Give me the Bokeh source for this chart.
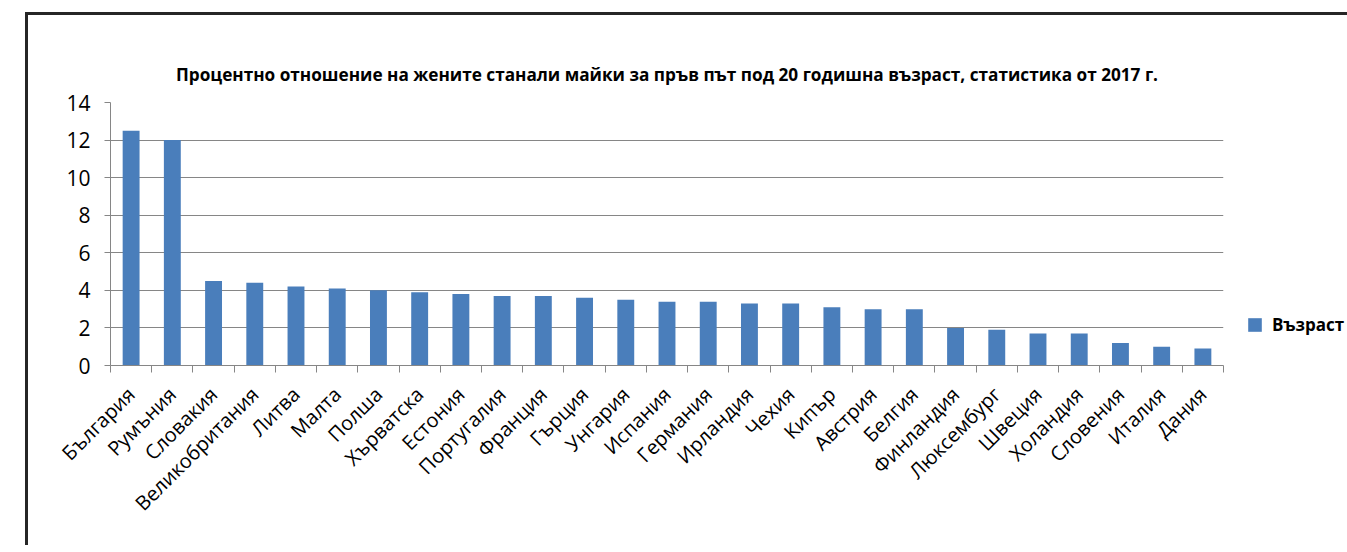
import math
from bokeh.plotting import figure
from bokeh.models import (Range1d, FixedTicker, LinearAxis, Legend, LegendItem, ColumnDataSource)
from bokeh.embed import file_html
from bokeh.resources import INLINE

countries = ["България", "Румъния", "Словакия", "Великобритания", "Литва", "Малта", "Полша",
             "Хърватска", "Естония", "Португалия", "Франция", "Гърция", "Унгария", "Испания",
             "Германия", "Ирландия", "Чехия", "Кипър", "Австрия", "Белгия", "Финландия",
             "Люксембург", "Швеция", "Холандия", "Словения", "Италия", "Дания"]
values = [12.5, 12.0, 4.5, 4.4, 4.2, 4.1, 4.0, 3.9, 3.8, 3.7, 3.7, 3.6, 3.5, 3.4,
          3.4, 3.3, 3.3, 3.1, 3.0, 3.0, 2.0, 1.9, 1.7, 1.7, 1.2, 1.0, 0.9]
y_ticks = [0, 2, 4, 6, 8, 10, 12, 14]
series_name = "Възраст"
title_text = "Процентно отношение на жените станали майки за пръв път под 20 годишна възраст, статистика от 2017 г."

FONT = "Open Sans"
GRAY = "#868686"

n = len(countries)
centers = [i + 0.5 for i in range(n)]
edges = list(range(n + 1))
src = ColumnDataSource(dict(x=centers, top=values, name=countries))

p = figure(width=1318, height=530, output_backend="svg", toolbar_location=None,
           x_range=Range1d(0, n), y_range=Range1d(0, 14),
           x_axis_location=None, y_axis_location=None,
           frame_width=1113, frame_height=263,
           min_border_left=82, min_border_top=87, min_border_right=123, min_border_bottom=180)
p.outline_line_color = None
p.background_fill_color = "white"
p.border_fill_color = "white"
p.margin = (12, 0, 0, 25)
p.styles = {"border-top": "3px solid #262626", "border-left": "3px solid #262626"}

p.title.text = title_text
p.title.text_font = FONT
p.title.text_font_style = "bold"
p.title.text_font_size = "17.2px"
p.title.text_color = "black"
p.title.align = "center"
p.title.standoff = 34

bars = p.vbar(x="x", top="top", source=src, width=0.41, fill_color="#4A7EBB", line_color=None)

# y axis
yax = LinearAxis(ticker=FixedTicker(ticks=y_ticks))
yax.axis_line_color = GRAY
yax.major_tick_line_color = GRAY
yax.major_tick_out = 6
yax.major_tick_in = 0
yax.minor_tick_line_color = None
yax.major_label_text_font = FONT
yax.major_label_text_font_size = "21px"
yax.major_label_text_color = "black"
yax.major_label_standoff = 14
p.add_layout(yax, "left")

p.ygrid.ticker = FixedTicker(ticks=y_ticks)
p.ygrid.grid_line_color = GRAY
p.xgrid.grid_line_color = None

# x axis: labels at bar centres, tick marks between categories
xax = LinearAxis(ticker=FixedTicker(ticks=centers, minor_ticks=edges))
xax.major_label_overrides = {c: name for c, name in zip(centers, countries)}
xax.axis_line_color = GRAY
xax.major_tick_line_color = None
xax.minor_tick_line_color = GRAY
xax.minor_tick_out = 7
xax.minor_tick_in = 0
xax.major_tick_out = 7
xax.major_tick_in = 0
xax.major_label_orientation = math.pi / 4
xax.major_label_text_font = FONT
xax.major_label_text_font_size = "20px"
xax.major_label_text_color = "black"
xax.major_label_standoff = 18
p.add_layout(xax, "below")

legend = Legend(items=[LegendItem(label=series_name, renderers=[bars])],
                location=(23, 29), glyph_width=17, glyph_height=17, label_height=17,
                label_standoff=9, padding=0, margin=0, border_line_color=None,
                background_fill_alpha=0, label_text_color="black",
                label_text_font=FONT, label_text_font_style="bold", label_text_font_size="17px")
p.add_layout(legend, "right")

open("out.html", "w").write(file_html(p, INLINE))
